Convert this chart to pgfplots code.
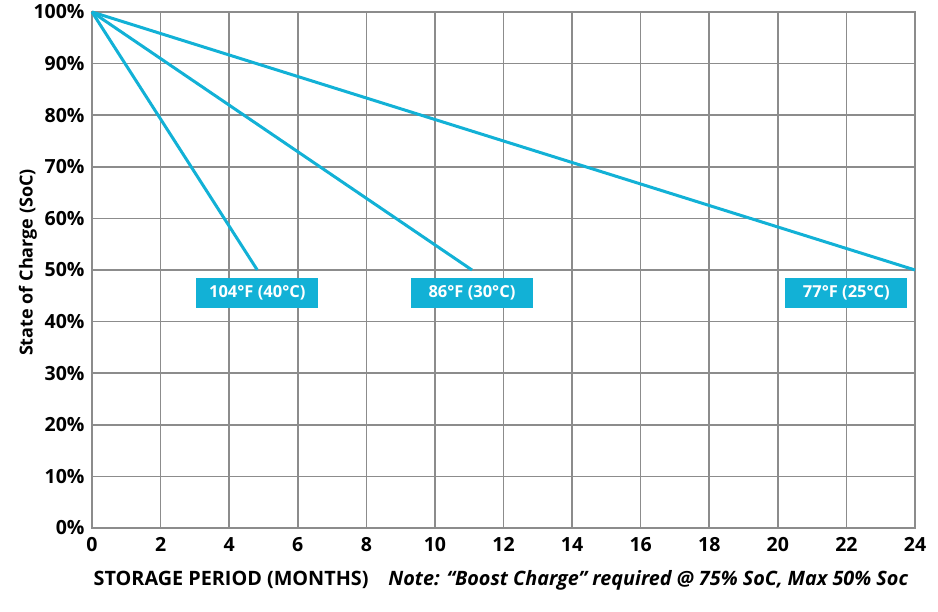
\documentclass[border=0pt]{standalone}
\usepackage{fontspec}
\setmainfont{Open Sans}
\usepackage{pgfplots}
\pgfplotsset{compat=1.18}

\definecolor{soc}{HTML}{12B1D6}
\definecolor{gridgray}{HTML}{8C8C8C}

\begin{document}
\begin{tikzpicture}
	\path (0,0) rectangle (938pt,612pt);
	\begin{axis}[
		at={(92pt,84pt)}, anchor=south west,
		scale only axis,
		width=823pt, height=516pt,
		xmin=0, xmax=24, ymin=0, ymax=100,
		xtick={0,2,...,24},
		ytick={0,10,...,100},
		grid=major,
		major grid style={gridgray, line width=1.6pt},
		axis line style={gridgray, line width=1.6pt},
		major tick length=0pt,
		/pgf/number format/assume math mode=true,
		ticklabel style={font=\fontsize{19.5}{21}\selectfont\bfseries},
		yticklabel={\pgfmathprintnumber{\tick}\%},
		yticklabel style={xshift=-4pt},
		xticklabel style={yshift=-6pt},
		xlabel={\fontsize{19.8}{22}\selectfont\bfseries STORAGE PERIOD (MONTHS)\quad\textit{Note: “Boost Charge” required @ 75\% SoC, Max 50\% Soc}},
		ylabel={\fontsize{18}{20}\selectfont\bfseries State of Charge (SoC)},
		every axis x label/.style={at={(axis description cs:0.497,-0.101)}, anchor=center},
		every axis y label/.style={at={(axis description cs:-0.078,0.5145)}, anchor=center, rotate=90},
		clip=false,
		]
		% 104 F (40 C)
		\addplot[soc, line width=3pt] coordinates {(0,100) (4.82,50)};
		% 86 F (30 C)
		\addplot[soc, line width=3pt] coordinates {(0,100) (11.08,50)};
		% 77 F (25 C)
		\addplot[soc, line width=3pt] coordinates {(0,100) (24,50)};

		\tikzset{tag/.style={fill=soc, text=white, font=\fontsize{16.5}{18}\selectfont\bfseries,
			minimum width=122pt, minimum height=30pt, inner sep=0pt}}
		\node[tag] at (axis cs:4.82,45.5) {104°F (40°C)};
		\node[tag] at (axis cs:11.08,45.5) {86°F (30°C)};
		\node[tag] at (axis cs:22.0,45.5) {77°F (25°C)};
	\end{axis}
\end{tikzpicture}
\end{document}
